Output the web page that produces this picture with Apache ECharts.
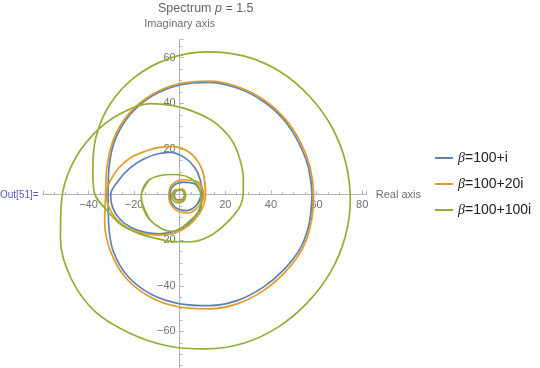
<!DOCTYPE html>
<html><head><meta charset="utf-8">
<script src="https://cdn.jsdelivr.net/npm/echarts@6/dist/echarts.min.js"></script>
<style>html,body{margin:0;padding:0;background:#fff;overflow:hidden;width:540px;height:368px}#c{width:540px;height:377px}</style>
</head><body><div id="c"></div>
<script>
const seriesNames = ['β=100+i', 'β=100+20i', 'β=100+100i'];
const seriesColors = ['#5E81B5', '#E19C24', '#8FB032'];

// Blue: beta = 100 + i
const blueBig = [[58,0],[56.5,11.7],[52.2,22.7],[45.7,32.7],[36.6,40.9],[25.5,46.6],[13,49.2],[0.1,48.1],[-12,43.3],[-21.9,34.9],[-28.4,23.9],[-31,11.8],[-31.4,0],[-31.2,-11.9],[-29.3,-24.4],[-22.8,-35.8],[-12.3,-43.8],[0.2,-47.9],[13,-48.7],[25.4,-46.4],[36.5,-40.7],[45.8,-32.8],[53.1,-23.2],[57,-11.8],[58,0]];
const blueMid = [[9.8,0],[9,6.5],[6.5,12],[2,16.3],[-4,18.5],[-10,17.8],[-16,15.5],[-22,11.5],[-27,6],[-30.3,0],[-29.5,-5.5],[-26.5,-10.5],[-21.5,-14.3],[-15,-16.6],[-8.8,-17.2],[-2,-16],[3.5,-13],[7.5,-8.5],[9.5,-4],[9.8,0]];
const blueSmall = [[9.3,0],[7,4.5],[1,5.5],[-3.5,3],[-4.2,-1],[-2,-5.5],[3,-7],[7.5,-4.5],[9.3,0]];
const blueTiny = [[2.2,0],[1,2],[-1.5,1.6],[-2.4,-0.6],[-0.8,-2.4],[1.4,-1.8],[2.2,0]];

// Orange: beta = 100 + 20i
const orangeBig = [[58.7,0],[57.2,11.9],[52.9,23.1],[46.2,33.2],[37,41.5],[25.7,47.2],[13,49.8],[-0.1,48.7],[-12.3,43.8],[-22.4,35.4],[-29,24.3],[-31.9,12],[-32.5,0],[-32.9,-12.3],[-30.3,-25],[-23.6,-36.6],[-13,-44.9],[-0.2,-49.3],[13,-50.1],[25.8,-47.7],[37.2,-41.8],[46.6,-33.6],[53.9,-23.6],[57.7,-12],[58.7,0]];
const orangeMid = [[11.3,0],[10.6,8],[8,14.5],[3,19.3],[-3,21],[-9,20.7],[-15,19],[-21,16.5],[-26.5,12],[-30.5,6],[-32.3,0],[-31,-5.5],[-28,-10.5],[-23,-14.5],[-16.5,-16.9],[-9,-17.8],[-2,-16.8],[4,-13.5],[8.5,-8.5],[10.7,-4],[11.3,0]];
const orangeSmall = [[10.5,0],[8,5.5],[1,6.5],[-4,3.5],[-4.8,-1],[-2,-6.5],[3.5,-8],[8.5,-5],[10.5,0]];
const orangeTiny = [[2.6,0],[1.2,2.4],[-1.6,2],[-2.8,-0.6],[-1,-2.8],[1.6,-2.2],[2.6,0]];

// Green: beta = 100 + 100i
const greenOuter = [[-37.4,0.7],[-38.1,10.8],[-36.7,25.3],[-30.6,39.6],[-19.7,51.5],[-5.1,59.5],[11.5,62.6],[28.4,60.7],[44.1,53.9],[57,43],[66.8,29.4],[72.8,14],[74.8,-2.5],[72.5,-18.8],[66.1,-34],[56.2,-47.2],[43.5,-57.9],[28.3,-65.1],[11.5,-67.7],[-5.6,-66.3],[-22.1,-60.7],[-37.2,-51.2],[-47.7,-36.7],[-52.3,-19.6],[-51.8,-2.5],[-47.2,13.2],[-38.1,26.2],[-26.3,35.3],[-13,39.9],[-4,39.2],[5,36.8],[13.2,33],[19,28.5],[23.5,22.8],[26.5,15],[27.9,7],[27.8,0],[26,-6],[20,-13],[13,-18.3],[5,-20.7],[-3,-20.6],[-10,-19.3],[-18,-17],[-26,-13],[-32.3,-6.5],[-37.4,0.7]];
const greenInner = [[-16.9,-0.7],[-13.2,6.6],[-3,8.8],[4.4,7.3],[8.8,2.2],[9.5,-5.1],[5,-11],[-3,-16.2],[-13.2,-11],[-16.9,-0.7]];
const greenTiny = [[2.5,-1],[1,2],[-2,2],[-3.5,-1],[-1.5,-3.5],[1.5,-3],[2.5,-1]];

const xLabelValues = [-40, -20, 20, 40, 60, 80];
const yLabelValues = [-60, -40, -20, 20, 40, 60];

const groups = [
  [blueBig, blueMid, blueSmall, blueTiny],
  [orangeBig, orangeMid, orangeSmall, orangeTiny],
  [greenOuter, greenInner, greenTiny]
];

// closed loops: wrap one point on each end so the smoothing has no kink at the seam
function wrapLoop(seg) {
  return [seg[seg.length - 2]].concat(seg, [seg[1]]);
}

const series = [];
groups.forEach((segs, i) => {
  segs.forEach(seg => {
    series.push({
      name: seriesNames[i], type: 'line', data: wrapLoop(seg), smooth: 0.34,
      symbol: 'none', showSymbol: false, clip: false,
      lineStyle: { color: seriesColors[i], width: 1.7 },
      itemStyle: { color: seriesColors[i] },
      emphasis: { disabled: true }
    });
  });
});

function fmt(v, list) {
  if (list.indexOf(v) < 0) return '';
  return v < 0 ? '\u2212' + (-v) : String(v);
}

// grid geometry (equal scale on both axes); canvas is 377 px tall, window shows 368
const CW = 540, CH = 377;
const gL = 42.9, gR = 173.3, gT = 39.5, gB = 0;
const xMin = -60, xMax = 82, yMin = -80, yMax = 68;
const gW = CW - gL - gR, gH = CH - gT - gB;
const zeroXpx = gL + (0 - xMin) / (xMax - xMin) * gW;
const zeroYpx = gT + (yMax - 0) / (yMax - yMin) * gH;
const xOffset = -((CH - gB) - zeroYpx);
const yOffset = -(zeroXpx - gL);

const axisCol = '#b4b4b4';
const labCol = '#707070';
const chart = echarts.init(document.getElementById('c'), null, { renderer: 'canvas', width: CW, height: CH });
chart.setOption({
  animation: false,
  backgroundColor: '#fff',
  grid: { left: gL, right: gR, top: gT, bottom: gB, containLabel: false },
  xAxis: {
    type: 'value', min: xMin, max: xMax, interval: 20, offset: xOffset,
    axisLine: { onZero: false, lineStyle: { color: axisCol, width: 1 } },
    axisTick: { show: true, inside: true, length: 4, lineStyle: { color: axisCol } },
    minorTick: { show: true, splitNumber: 4, length: 2.5, lineStyle: { color: axisCol } },
    splitLine: { show: false },
    axisLabel: { color: labCol, fontSize: 11, margin: 5, fontFamily: 'Liberation Sans, Arial',
      formatter: v => fmt(v, xLabelValues) },
    name: 'Real axis', nameLocation: 'end', nameGap: 9,
    nameTextStyle: { color: labCol, fontSize: 11, fontFamily: 'Liberation Sans, Arial' }
  },
  yAxis: {
    type: 'value', min: yMin, max: yMax, interval: 20, offset: yOffset,
    axisLine: { onZero: false, lineStyle: { color: axisCol, width: 1 } },
    axisTick: { show: true, inside: true, length: 4, lineStyle: { color: axisCol } },
    minorTick: { show: true, splitNumber: 4, length: 2.5, lineStyle: { color: axisCol } },
    splitLine: { show: false },
    axisLabel: { color: labCol, fontSize: 11, margin: 4, fontFamily: 'Liberation Sans, Arial',
      formatter: v => fmt(v, yLabelValues) },
    name: 'Imaginary axis', nameLocation: 'end', nameGap: 10,
    nameTextStyle: { color: labCol, fontSize: 11, fontFamily: 'Liberation Sans, Arial' }
  },
  legend: {
    orient: 'vertical', left: 435, top: 151, padding: 0, itemWidth: 18, itemHeight: 2, itemGap: 12,
    icon: 'rect', data: seriesNames, selectedMode: false,
    formatter: n => '{i|β}{n|' + n.slice(1) + '}',
    textStyle: { color: '#222', fontSize: 14, fontFamily: 'Liberation Sans, Arial',
      rich: { i: { fontStyle: 'italic', fontSize: 14, fontFamily: 'Liberation Serif, serif' },
              n: { fontSize: 14, fontFamily: 'Liberation Sans, Arial' } } }
  },
  graphic: [
    { type: 'text', left: 158, top: 2, style: { text: '{a|Spectrum }{i|p}{a| = 1.5}', fill: '#666',
      rich: { a: { fontSize: 12.5, fill: '#666', fontFamily: 'Liberation Sans, Arial' },
              i: { fontSize: 12.5, fill: '#666', fontStyle: 'italic', fontFamily: 'Liberation Sans, Arial' } } } },
    { type: 'text', left: 0, top: 190, style: { text: 'Out[51]=', fill: '#5a5ab4', fontSize: 10, fontFamily: 'Liberation Sans, Arial' } }
  ],
  series: series
});
</script>
</body></html>
